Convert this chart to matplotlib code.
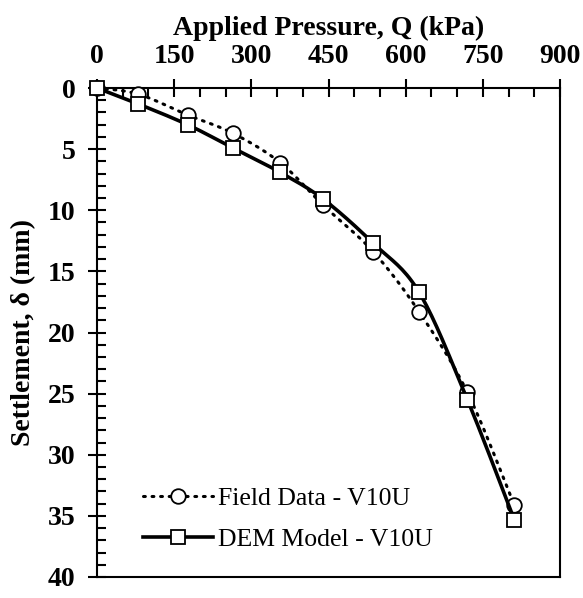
import numpy as np
import matplotlib
matplotlib.use("Agg")
import matplotlib.pyplot as plt
from matplotlib.lines import Line2D
from matplotlib.ticker import MultipleLocator

plt.rcParams['font.family'] = ['Liberation Serif', 'DejaVu Serif']

pressure = [0, 80, 176, 264, 356, 440, 537, 626, 720, 811]
field_settlement = [0, 0.5, 2.2, 3.7, 6.1, 9.6, 13.4, 18.3, 24.9, 34.1]
dem_settlement = [0, 1.3, 3.0, 4.9, 6.9, 9.1, 12.7, 16.7, 25.5, 35.3]

field_label = "Field Data - V10U"
dem_label = "DEM Model - V10U"
x_ticks = [0, 150, 300, 450, 600, 750, 900]
y_ticks = [0, 5, 10, 15, 20, 25, 30, 35, 40]


def smooth(x, y, sx=1.0, sy=1.0, n=20):
    """Excel-like smoothed line (Bezier, Catmull-Rom tangents) through the points."""
    p = np.column_stack([np.asarray(x, float) * sx, np.asarray(y, float) * sy])
    out = [p[0]]
    for i in range(len(p) - 1):
        p0 = p[i - 1] if i > 0 else p[i]
        p1 = p[i]
        p2 = p[i + 1]
        p3 = p[i + 2] if i + 2 < len(p) else p[i + 1]
        c1 = p1 + (p2 - p0) / 6.0
        c2 = p2 - (p3 - p1) / 6.0
        t = np.linspace(0, 1, n)[1:, None]
        seg = ((1 - t) ** 3) * p1 + 3 * ((1 - t) ** 2) * t * c1 + 3 * (1 - t) * t ** 2 * c2 + t ** 3 * p2
        out.extend(seg)
    out = np.array(out)
    return out[:, 0] / sx, out[:, 1] / sy


fig = plt.figure(figsize=(5.83, 5.98), dpi=100)
ax = fig.add_axes([97 / 583, 1 - 577 / 598, (560 - 97) / 583, (577 - 88) / 598])

sx, sy = 463 / 900, 489 / 40
fx, fy = smooth(pressure, field_settlement, sx, sy)
dx, dy = smooth(pressure, dem_settlement, sx, sy)

dot_style = dict(color='black', lw=2.2, ls=(0, (0.6, 2.2)), dash_capstyle='round')
solid_style = dict(color='black', lw=2.6)
circ_style = dict(marker='o', ms=10.5, mfc='white', mec='black', mew=1.3)
sq_style = dict(marker='s', ms=10.5, mfc='white', mec='black', mew=1.3)

ax.plot(fx, fy, zorder=2, **dot_style)
ax.plot(pressure, field_settlement, ls='none', zorder=3, clip_on=False, **circ_style)
ax.plot(dx, dy, zorder=4, **solid_style)
ax.plot(pressure, dem_settlement, ls='none', zorder=5, clip_on=False, **sq_style)

ax.set_xlim(0, 900)
ax.set_ylim(40, 0)
ax.xaxis.tick_top()
ax.xaxis.set_label_position('top')
ax.set_xticks(x_ticks)
ax.set_yticks(y_ticks)
ax.xaxis.set_minor_locator(MultipleLocator(50))
ax.yaxis.set_minor_locator(MultipleLocator(1))

ax.tick_params(which='major', direction='inout', length=13, width=1.5, labelsize=20)
ax.tick_params(axis='x', which='major', pad=7)
ax.tick_params(axis='y', which='major', pad=9)
ax.tick_params(which='minor', direction='in', length=6.5, width=1.5)
ax.tick_params(axis='x', which='both', top=True, bottom=False)
ax.tick_params(axis='y', which='both', left=True, right=False)
for lab in ax.get_xticklabels() + ax.get_yticklabels():
    lab.set_fontweight('bold')
for s in ax.spines.values():
    s.set_linewidth(1.5)

ax.set_xlabel("Applied Pressure, Q (kPa)", fontsize=20, fontweight='bold', labelpad=7)
ax.set_ylabel("Settlement, δ (mm)", fontsize=20, fontweight='bold', labelpad=8)

h1 = Line2D([], [], **dot_style, **circ_style)
h2 = Line2D([], [], **solid_style, **sq_style)
ax.legend([h1, h2], [field_label, dem_label], loc='lower left', bbox_to_anchor=(0.099, 0.053),
          borderpad=0, borderaxespad=0, frameon=False, fontsize=18.5, handlelength=2.72,
          handletextpad=0.2, labelspacing=0.72, numpoints=1)

fig.savefig("out.png", dpi=100)
